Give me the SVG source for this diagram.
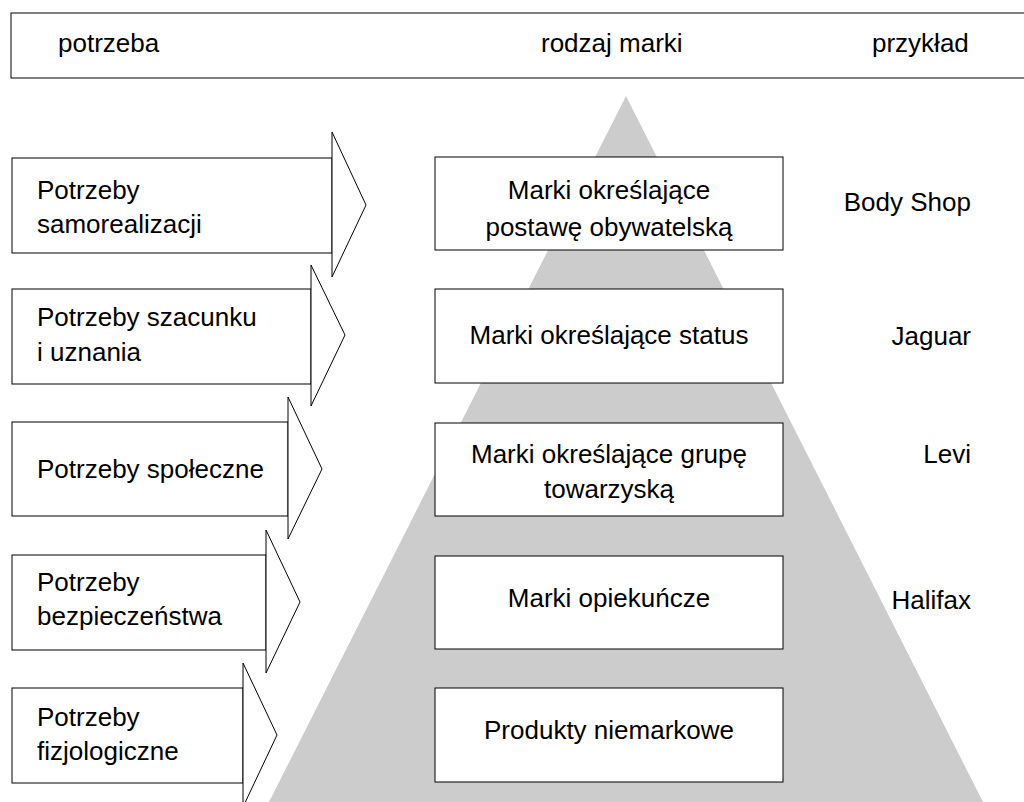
<svg xmlns="http://www.w3.org/2000/svg" width="1024" height="802" viewBox="0 0 1024 802">
<style>
  .t { font-family: "Liberation Sans", Arial, sans-serif; font-size: 26px; fill: #000; }
  .c { text-anchor: middle; }
  .r { text-anchor: end; }
  .box { fill: #fff; stroke: #000; stroke-width: 1; }
</style>
<rect width="1024" height="802" fill="#fff"/>
<g id="header">
  <rect x="11" y="13" width="1030" height="65" class="box"/>
  <text x="58" y="52" class="t">potrzeba</text>
  <text x="541" y="52" class="t">rodzaj marki</text>
  <text x="872" y="52" class="t">przykład</text>
</g>
<g id="pyramid">
  <polygon points="626,96 269,802 983,802" fill="#cccccc"/>
</g>
<g id="need1">
  <rect x="12" y="158" width="320" height="95" class="box"/>
  <polygon points="332,132 366,205 332,277" class="box"/>
  <text x="37" y="199" class="t">Potrzeby</text>
  <text x="37" y="233" class="t">samorealizacji</text>
</g>
<g id="need2">
  <rect x="12" y="289" width="299" height="95" class="box"/>
  <polygon points="311,265 345,335 311,406" class="box"/>
  <text x="37" y="326" class="t">Potrzeby szacunku</text>
  <text x="37" y="361" class="t">i uznania</text>
</g>
<g id="need3">
  <rect x="12" y="422" width="276" height="94" class="box"/>
  <polygon points="288,397 322,469 288,539" class="box"/>
  <text x="37" y="478" class="t">Potrzeby społeczne</text>
</g>
<g id="need4">
  <rect x="12" y="555" width="254" height="95" class="box"/>
  <polygon points="266,530 300,602 266,673" class="box"/>
  <text x="37" y="591" class="t">Potrzeby</text>
  <text x="37" y="625" class="t">bezpieczeństwa</text>
</g>
<g id="need5">
  <rect x="12" y="688" width="231" height="95" class="box"/>
  <polygon points="243,663 277,735 243,807" class="box"/>
  <text x="37" y="726" class="t">Potrzeby</text>
  <text x="37" y="760" class="t">fizjologiczne</text>
</g>
<g id="brand1">
  <rect x="435" y="157" width="348" height="93" class="box"/>
  <text x="609" y="199" class="t c">Marki określające</text>
  <text x="609" y="236" class="t c">postawę obywatelską</text>
</g>
<g id="brand2">
  <rect x="435" y="289" width="348" height="94" class="box"/>
  <text x="609" y="344" class="t c">Marki określające status</text>
</g>
<g id="brand3">
  <rect x="435" y="423" width="348" height="93" class="box"/>
  <text x="609" y="463" class="t c">Marki określające grupę</text>
  <text x="609" y="498" class="t c">towarzyską</text>
</g>
<g id="brand4">
  <rect x="435" y="556" width="348" height="93" class="box"/>
  <text x="609" y="607" class="t c">Marki opiekuńcze</text>
</g>
<g id="brand5">
  <rect x="435" y="688" width="348" height="94" class="box"/>
  <text x="609" y="739" class="t c">Produkty niemarkowe</text>
</g>
<g id="examples">
  <text x="971" y="211" class="t r">Body Shop</text>
  <text x="971" y="345" class="t r">Jaguar</text>
  <text x="971" y="463" class="t r">Levi</text>
  <text x="971" y="609" class="t r">Halifax</text>
</g>
</svg>
